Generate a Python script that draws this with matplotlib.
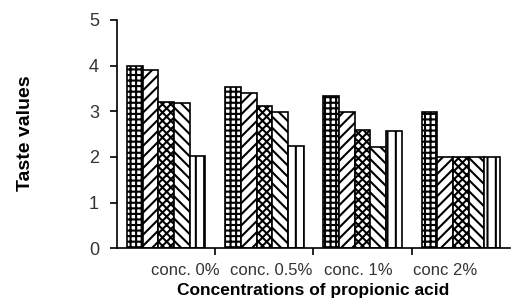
import matplotlib
matplotlib.use("Agg")
import matplotlib.pyplot as plt
import numpy as np

categories = ["conc. 0%", "conc. 0.5%", "conc. 1%", "conc 2%"]
series = [
    [4.00, 3.54, 3.33, 2.99],
    [3.90, 3.41, 2.99, 2.00],
    [3.21, 3.11, 2.60, 2.00],
    [3.18, 2.99, 2.22, 2.00],
    [2.02, 2.24, 2.57, 2.00],
]
hatches = ["+++", "///", "xxxx", "\\\\\\", "||"]
yticks = [0, 1, 2, 3, 4, 5]

plt.rcParams['font.family'] = ['Liberation Sans', 'DejaVu Sans']
plt.rcParams['hatch.linewidth'] = 1.5

fig = plt.figure(figsize=(5.11, 3.03), dpi=100)
ax = fig.add_axes([0.229, 0.181, 0.769, 0.753])

n = len(series)
width = 0.16
x = np.arange(len(categories))
for i, vals in enumerate(series):
    ax.bar(x + (i - (n - 1) / 2) * width, vals, width, facecolor='white',
           edgecolor='black', linewidth=1.2, hatch=hatches[i], zorder=2)

ax.set_xlim(-0.5, 3.5)
ax.set_ylim(0, 5)
ax.spines['top'].set_visible(False)
ax.spines['right'].set_visible(False)
ax.spines['left'].set_linewidth(1.2)
ax.spines['bottom'].set_linewidth(1.2)

ax.set_yticks(yticks)
ax.tick_params(axis='y', direction='out', length=5, width=1.2, pad=8,
               labelsize=13, labelcolor='#333333')

label_pos = [0.2, 1.07, 1.96, 2.84]
ax.set_xticks(label_pos)
ax.set_xticklabels(categories, fontsize=12, color='#333333')
ax.tick_params(axis='x', which='major', length=0, pad=11)
ax.set_xticks([0.5, 1.5, 2.5], minor=True)
ax.tick_params(axis='x', which='minor', direction='out', length=5, width=1.2)

ax.set_ylabel("Taste values", fontsize=14, fontweight='bold')
ax.yaxis.set_label_coords(-0.21, 0.504)
ax.set_xlabel("Concentrations of propionic acid", fontsize=12.5, fontweight='bold')
ax.xaxis.set_label_coords(0.5, -0.152)

fig.savefig("out.png", dpi=100)
